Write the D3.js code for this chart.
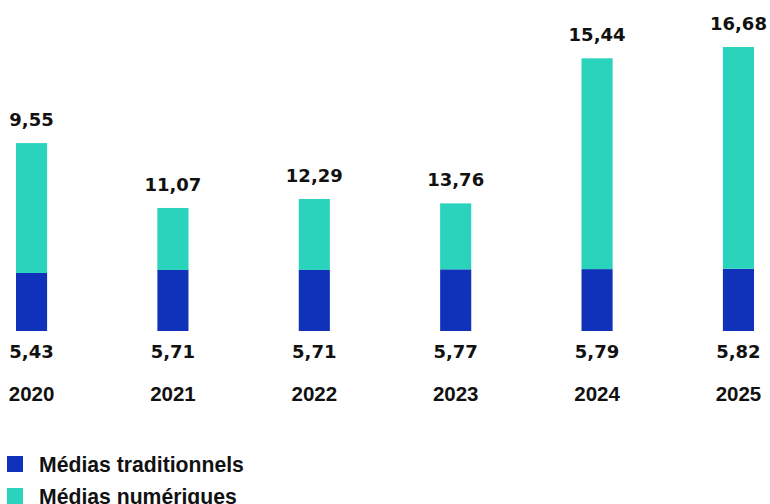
<!DOCTYPE html>
<html>
<head>
<meta charset="utf-8">
<script src="https://cdn.jsdelivr.net/npm/d3@7"></script>
<style>
  body { margin: 0; background: #fff; }
  svg { display: block; }
</style>
</head>
<body>
<div id="chart"></div>
<script>
'use strict'

const years = ['2020', '2021', '2022', '2023', '2024', '2025']
const traditional = [5.43, 5.71, 5.71, 5.77, 5.79, 5.82]
// printed labels above the bars
const digitalLabels = [9.55, 11.07, 12.29, 13.76, 15.44, 16.68]
// the source bars don't follow the printed labels, so the teal
// segment lengths are read off the picture in the same units
const digitalDrawn = [12.15, 5.8, 6.64, 6.17, 19.72, 20.75]

const seriesNames = ['Médias traditionnels', 'Médias numériques']
const colors = ['#1032ba', '#2ad3bc']

const width = 770
const height = 504
const baseline = 331

const fmt = d3.formatLocale({ decimal: ',', thousands: ' ', grouping: [3], currency: ['', ' €'] }).format('.2f')

const svg = d3.select('#chart')
  .append('svg')
  .attr('width', width)
  .attr('height', height)

const x = d3.scaleBand()
  .domain(years)
  .range([16, 754])
  .paddingInner(0.78)
  .paddingOuter(0)

const totals = years.map((d, i) => traditional[i] + digitalDrawn[i])
const y = d3.scaleLinear()
  .domain([0, d3.max(totals)])
  .range([baseline, 47])

const rows = years.map((year, i) => ({
  year,
  trad: traditional[i],
  digital: digitalDrawn[i],
  label: digitalLabels[i]
}))

const bars = svg.append('g')

bars.selectAll('.trad')
  .data(rows)
  .join('rect')
  .attr('class', 'trad')
  .attr('x', (d) => x(d.year))
  .attr('width', x.bandwidth())
  .attr('y', (d) => y(d.trad))
  .attr('height', (d) => baseline - y(d.trad))
  .attr('fill', colors[0])

bars.selectAll('.digital')
  .data(rows)
  .join('rect')
  .attr('class', 'digital')
  .attr('x', (d) => x(d.year))
  .attr('width', x.bandwidth())
  .attr('y', (d) => y(d.trad + d.digital))
  .attr('height', (d) => y(d.trad) - y(d.trad + d.digital))
  .attr('fill', colors[1])

const labels = svg.append('g')
  .attr('text-anchor', 'middle')
  .attr('fill', '#111')
  .attr('font-weight', 'bold')

labels.selectAll('.top')
  .data(rows)
  .join('text')
  .attr('class', 'top')
  .attr('x', (d) => x(d.year) + x.bandwidth() / 2)
  .attr('y', (d) => y(d.trad + d.digital) - 17)
  .attr('font-family', 'DejaVu Sans')
  .attr('font-size', 18)
  .text((d) => fmt(d.label))

labels.selectAll('.bottom')
  .data(rows)
  .join('text')
  .attr('class', 'bottom')
  .attr('x', (d) => x(d.year) + x.bandwidth() / 2)
  .attr('y', 358)
  .attr('font-family', 'DejaVu Sans')
  .attr('font-size', 18)
  .text((d) => fmt(d.trad))

// year axis, no line or ticks
const xAxis = svg.append('g')
  .attr('transform', 'translate(0, 384)')
  .call(d3.axisBottom(x).tickSize(0).tickPadding(0))

xAxis.select('.domain').remove()
xAxis.selectAll('text')
  .attr('dy', null)
  .attr('y', 17)
  .attr('fill', '#111')
  .attr('font-family', 'Liberation Sans, Arial, sans-serif')
  .attr('font-weight', 'bold')
  .attr('font-size', 20.5)

const legend = svg.append('g')
  .attr('transform', 'translate(7, 456)')

const item = legend.selectAll('g')
  .data(seriesNames)
  .join('g')
  .attr('transform', (d, i) => `translate(0, ${i * 32})`)

item.append('rect')
  .attr('width', 16)
  .attr('height', 16)
  .attr('fill', (d, i) => colors[i])

item.append('text')
  .attr('x', 32)
  .attr('y', 16)
  .attr('fill', '#111')
  .attr('font-family', 'Liberation Sans, Arial, sans-serif')
  .attr('font-weight', 'bold')
  .attr('font-size', 21.2)
  .text((d) => d)
</script>
</body>
</html>
